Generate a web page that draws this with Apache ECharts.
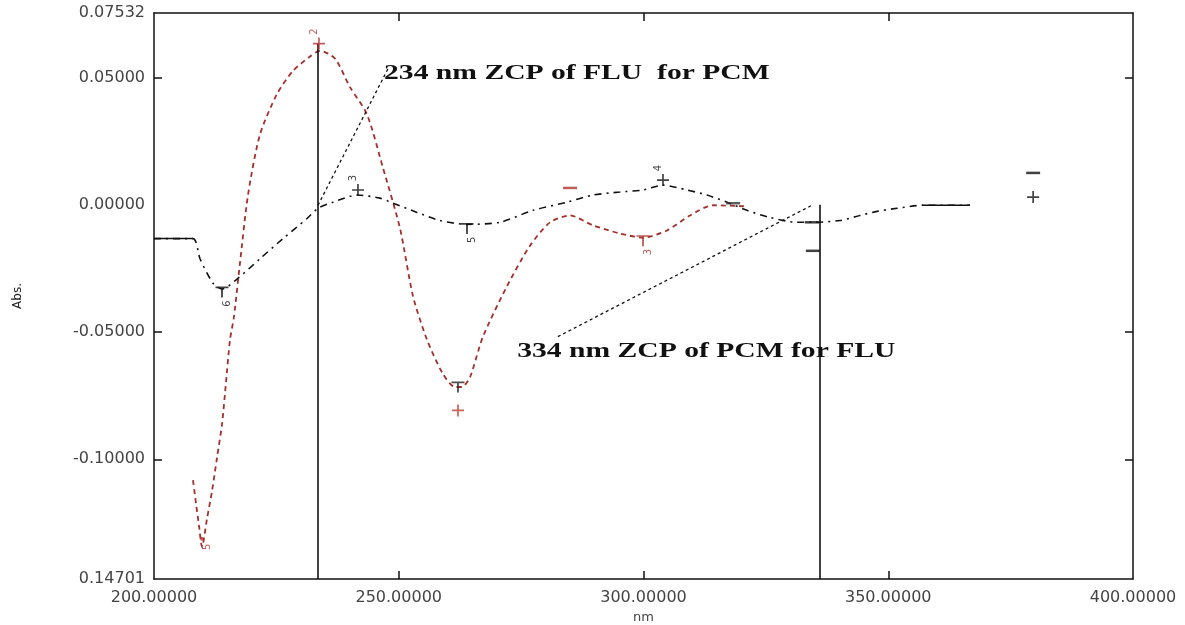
<!DOCTYPE html>
<html><head><meta charset="utf-8">
<script src="https://cdn.jsdelivr.net/npm/echarts@6/dist/echarts.min.js"></script>
<style>html,body{margin:0;padding:0;background:#fff}#c{width:1185px;height:625px}</style>
</head><body><div id="c"></div>
<script>
// ---- data ----
const xTicks = [200, 250, 300, 350, 400];
const yTickValues = [-0.14701, -0.1, -0.05, 0, 0.05, 0.07532];
const yTickLabels = ['0.14701', '-0.10000', '-0.05000', '0.00000', '0.05000', '0.07532'];

const fluX = [207.97,208.58,209.19,209.81,210.83,211.85,212.87,213.89,214.71,215.53,216.34,217.57,219.20,221.65,225.13,228.40,231.87,233.91,236.98,240.04,243.51,246.78,250.26,252.91,255.77,259.04,261.49,262.92,264.56,267.21,272.11,276.81,280.90,284.98,289.68,295.20,299.90,304.80,309.50,314.20,320.74];
const fluY = [-0.1082,-0.1173,-0.1260,-0.1344,-0.1233,-0.1125,-0.0994,-0.0863,-0.0697,-0.0530,-0.0439,-0.0228,0.0038,0.0276,0.0435,0.0526,0.0582,0.0605,0.0574,0.0462,0.0355,0.0145,-0.0093,-0.0359,-0.0530,-0.0665,-0.0716,-0.0716,-0.0677,-0.0518,-0.0320,-0.0161,-0.0069,-0.0042,-0.0081,-0.0113,-0.0129,-0.0101,-0.0042,-0.0002,-0.0006];

const pcmX = [200.00,207.97,209.40,212.05,213.89,216.96,221.65,226.35,231.26,233.50,236.57,241.47,246.17,248.82,253.73,258.43,263.94,270.68,277.43,284.37,289.68,295.20,299.90,303.98,308.89,312.97,317.06,321.14,325.84,331.36,334.42,340.14,344.22,347.70,351.79,356.89,366.70];
const pcmY = [-0.0133,-0.0133,-0.0212,-0.0308,-0.0331,-0.0292,-0.0212,-0.0133,-0.0054,-0.0014,0.0010,0.0038,0.0026,0.0006,-0.0030,-0.0062,-0.0077,-0.0069,-0.0022,0.0010,0.0038,0.0050,0.0058,0.0077,0.0058,0.0038,0.0010,-0.0022,-0.0050,-0.0069,-0.0069,-0.0062,-0.0042,-0.0026,-0.0014,-0.0002,-0.0002];

// zero-crossing lines and leader lines
const zcpX = [233.5, 336.0];
const zcpTop = [0.0633, 0.0];
const leaderFrom = [[233.5, -0.0002], [282.5, -0.0518]];
const leaderTo = [[247.8, 0.0534], [334.4, -0.0002]];
const annoText = ['234 nm ZCP of FLU  for PCM', '334 nm ZCP of PCM for FLU'];
const annoX = [247.0, 274.2];
const annoY = [0.0514, -0.0578];

// peak-pick markers
const peakX = [213.89,241.67,263.94,303.98,334.4,334.6,379.6,379.6,233.7,209.8,262.1,262.1,285.0,299.9,318.3];
const peakY = [-0.0343,0.0058,-0.0093,0.0097,-0.0069,-0.0181,0.0125,0.0030,0.0633,-0.1312,-0.0808,-0.0716,0.0066,-0.0141,0.0006];
const peakKind = ['tee','plus','tee','plus','dash','dash','dash','plus','plus','dot','plus','tee','dash','tee','dash'];
const peakLabel = ['6','3','5','4','','','','','2','5','','','','3',''];
const peakLabelPos = ['bottom','top','bottom','top','','','','','top','bottom','','','','bottom',''];
const peakColor = ['#111','#111','#111','#111','#111','#111','#111','#111','#b2332e','#b2332e','#c0392b','#222','#b2332e','#a8322d','#333'];

// ---- chart ----
const RED = '#a3302b';
const symbols = {
  tee: {path: 'path://M0,0H10V1.4H5.7V9H4.3V1.4H0Z', size: [13, 11]},
  plus: {path: 'path://M4.3,0H5.7V4.3H10V5.7H5.7V10H4.3V5.7H0V4.3H4.3Z', size: [12, 12]},
  dash: {path: 'path://M0,0H10V1H0Z', size: [14, 2.5]},
  dot: {path: 'circle', size: 4}
};
const chart = echarts.init(document.getElementById('c'));
const zip = (a, b) => a.map((v, i) => [v, b[i]]);
const pcmData = zip(pcmX, pcmY);
const labelFont = {fontFamily: 'DejaVu Sans', fontSize: 16, color: '#444'};

const markLineData = [];
zcpX.forEach((x, i) => markLineData.push([{coord: [x, zcpTop[i]]}, {coord: [x, -0.14701]}]));
const leaderData = leaderFrom.map((f, i) => [{coord: f}, {coord: leaderTo[i]}]);

const option = {
  animation: false,
  grid: {left: 154, top: 13, right: 52, bottom: 46, containLabel: false, outerBoundsMode: 'none'},
  xAxis: [{
    type: 'value', min: 200, max: 400, interval: 50,
    name: 'nm', nameLocation: 'middle', nameGap: 32,
    nameTextStyle: {fontFamily: 'DejaVu Sans', fontSize: 13, color: '#444'},
    axisLine: {onZero: false, lineStyle: {color: '#111', width: 1.5}},
    axisTick: {inside: true, length: 8, lineStyle: {color: '#111', width: 1.5}, customValues: [250, 300, 350]},
    axisLabel: Object.assign({margin: 11, formatter: v => v.toFixed(5), customValues: xTicks}, labelFont),
    splitLine: {show: false}
  }, {
    type: 'value', position: 'top', min: 200, max: 400, interval: 50,
    axisLine: {show: true, onZero: false, lineStyle: {color: '#111', width: 1.5}},
    axisTick: {inside: true, length: 8, lineStyle: {color: '#111', width: 1.5}, customValues: [250, 300, 350]},
    axisLabel: {show: false}, splitLine: {show: false}
  }],
  yAxis: [{
    type: 'value', min: -0.14701, max: 0.07532,
    name: 'Abs.', nameLocation: 'middle', nameGap: 130, nameRotate: 90,
    nameTextStyle: {fontFamily: 'DejaVu Sans', fontSize: 12, color: '#222'},
    axisLine: {show: true, onZero: false, lineStyle: {color: '#111', width: 1.5}},
    axisTick: {inside: true, length: 8, lineStyle: {color: '#111', width: 1.5}, customValues: [-0.1, -0.05, 0.05]},
    axisLabel: Object.assign({margin: 9, customValues: yTickValues,
      formatter: v => { const i = yTickValues.findIndex(t => Math.abs(t - v) < 1e-6); return i >= 0 ? yTickLabels[i] : ''; }}, labelFont),
    splitLine: {show: false}
  }, {
    type: 'value', position: 'right', min: -0.14701, max: 0.07532,
    axisLine: {show: true, onZero: false, lineStyle: {color: '#111', width: 1.5}},
    axisTick: {show: true, inside: true, length: 8, lineStyle: {color: '#111', width: 1.5}, customValues: [-0.1, -0.05, 0.05]},
    axisLabel: {show: false}, splitLine: {show: false}
  }],
  series: [
    {
      name: 'FLU', type: 'line', data: zip(fluX, fluY), smooth: 0.25, symbol: 'none',
      lineStyle: {color: RED, width: 1.8, type: [5, 4]}, z: 3
    },
    {
      name: 'PCM', type: 'line', data: pcmData, smooth: 0.25, symbol: 'none',
      lineStyle: {color: '#111', width: 1.6, type: [7, 5, 2, 5]}, z: 3
    },
    {
      name: 'PCM start', type: 'line', data: pcmData.slice(0, 2), symbol: 'none',
      lineStyle: {color: '#111', width: 1.5}, z: 3
    },
    {
      name: 'PCM end', type: 'line', data: pcmData.slice(-2), symbol: 'none',
      lineStyle: {color: '#111', width: 1.5}, z: 3
    },
    {
      name: 'ZCP', type: 'line', data: [], symbol: 'none',
      markLine: {
        silent: true, symbol: 'none', label: {show: false},
        lineStyle: {color: '#111', width: 1.6, type: 'solid'},
        data: markLineData
      }
    },
    {
      name: 'leader', type: 'line', data: [], symbol: 'none',
      markLine: {
        silent: true, symbol: 'none', label: {show: false},
        lineStyle: {color: '#111', width: 1.3, type: [3, 3]},
        data: leaderData
      }
    },
    {
      name: 'peaks', type: 'scatter', z: 5,
      data: peakX.map((x, i) => ({
        value: [x, peakY[i]],
        symbol: symbols[peakKind[i]].path,
        symbolSize: symbols[peakKind[i]].size,
        itemStyle: {color: peakColor[i]},
        label: {show: !!peakLabel[i], formatter: peakLabel[i], position: peakLabelPos[i] || 'top',
          distance: 6, rotate: 90, fontSize: 10, fontFamily: 'DejaVu Sans', color: peakColor[i]}
      }))
    }
  ]
};
chart.setOption(option);

// annotation texts (horizontally stretched serif bold, like the source)
const graphics = annoText.map((t, i) => {
  const p = chart.convertToPixel({xAxisIndex: 0, yAxisIndex: 0}, [annoX[i], annoY[i]]);
  return {
    type: 'text', x: p[0], y: p[1], scaleX: 1.48, scaleY: 1, z: 10,
    style: {text: t, font: 'bold 20px "Liberation Serif"', fill: '#111', textVerticalAlign: 'middle', verticalAlign: 'middle', align: 'left'}
  };
});
chart.setOption({graphic: graphics});
</script>
</body></html>
